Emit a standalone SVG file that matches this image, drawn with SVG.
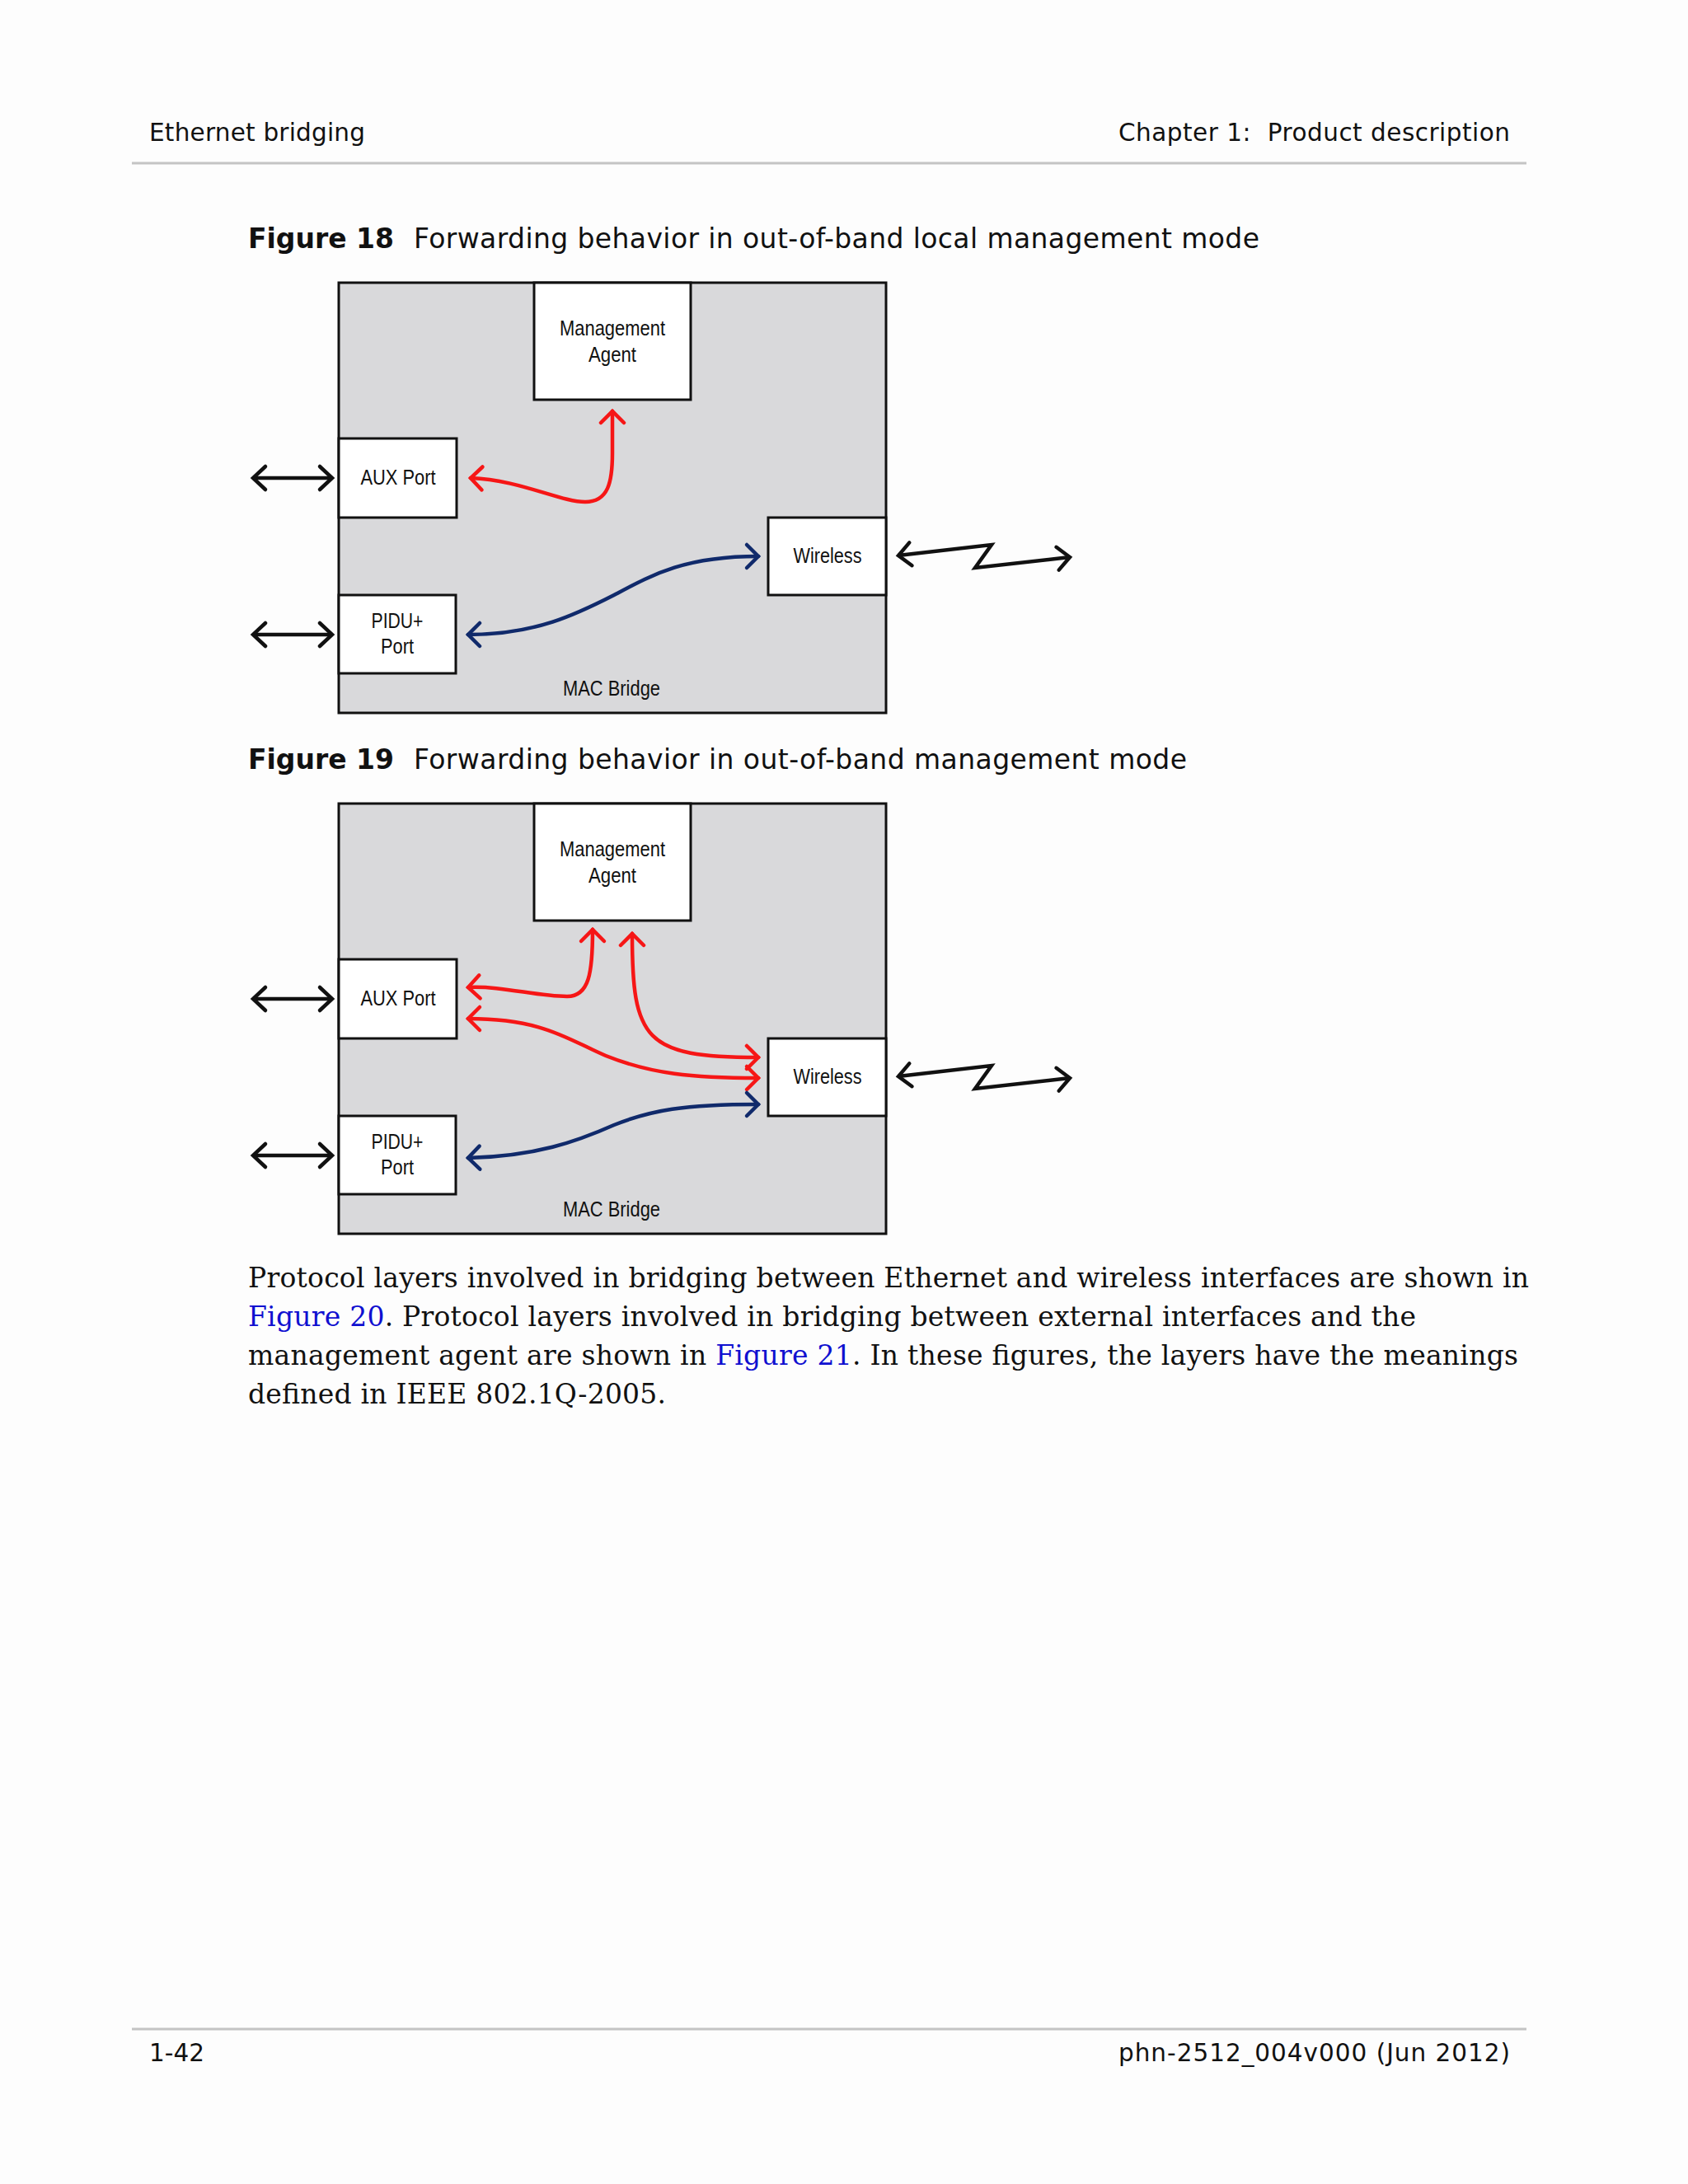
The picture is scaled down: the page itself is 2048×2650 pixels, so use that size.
<svg xmlns="http://www.w3.org/2000/svg" width="2048" height="2650" viewBox="0 0 2048 2650">
<style>
.page{fill:#fdfdfd}
.rule{stroke:#c4c4c4;stroke-width:3}
.hdr{font-family:"DejaVu Sans",Verdana,sans-serif;font-size:29.5px;fill:#111}
.cap{font-family:"DejaVu Sans",Verdana,sans-serif;font-size:33px;fill:#111}
.capb{font-weight:bold}
.body{font-family:"DejaVu Serif","Liberation Serif",serif;font-size:33px;fill:#111}
.link{fill:#1010d0}
.bridge{fill:#d9d9db;stroke:#111;stroke-width:3}
.node rect{fill:#fff;stroke:#111;stroke-width:3}
.lbl{font-family:"Liberation Sans",Arial,sans-serif;font-size:26px;fill:#111;text-anchor:middle}
.blk{fill:none;stroke:#111;stroke-width:4.5;stroke-linejoin:miter}
.red{fill:none;stroke:#f61616;stroke-width:4.5;stroke-linecap:round}
.blu{fill:none;stroke:#102a6b;stroke-width:4.5;stroke-linecap:round}
</style>
<defs>
<marker id="mk" markerUnits="userSpaceOnUse" markerWidth="40" markerHeight="40" viewBox="-20 -20 40 40" refX="0" refY="0" orient="auto-start-reverse" overflow="visible">
<path d="M-15,-14 L0,0 L-15,14" fill="none" stroke="#111" stroke-width="4.5" stroke-linecap="round"/>
</marker>
<marker id="mr" markerUnits="userSpaceOnUse" markerWidth="40" markerHeight="40" viewBox="-20 -20 40 40" refX="0" refY="0" orient="auto-start-reverse" overflow="visible">
<path d="M-14,-14 L0,0 L-14,14" fill="none" stroke="#f61616" stroke-width="4.5" stroke-linecap="round"/>
</marker>
<marker id="mb" markerUnits="userSpaceOnUse" markerWidth="40" markerHeight="40" viewBox="-20 -20 40 40" refX="0" refY="0" orient="auto-start-reverse" overflow="visible">
<path d="M-14,-14 L0,0 L-14,14" fill="none" stroke="#102a6b" stroke-width="4.5" stroke-linecap="round"/>
</marker>
</defs>
<rect class="page" x="0" y="0" width="2048" height="2650"/>

<g id="header">
<text class="hdr" x="181" y="171" textLength="262">Ethernet bridging</text>
<text class="hdr" x="1357" y="171" textLength="475" xml:space="preserve">Chapter 1:  Product description</text>
<line class="rule" x1="160" y1="198" x2="1852" y2="198"/>
</g>

<g id="caption18">
<text class="cap capb" x="301" y="301" textLength="177">Figure 18</text>
<text class="cap" x="502" y="301" textLength="1026">Forwarding behavior in out-of-band local management mode</text>
</g>

<g id="fig18">
<rect id="bridge18" class="bridge" x="411" y="343" width="664" height="522"/>
<text class="lbl" x="742" y="844" textLength="118" lengthAdjust="spacingAndGlyphs">MAC Bridge</text>
<g id="mgmt18" class="node"><rect x="648" y="343" width="190" height="142"/><text class="lbl" x="743" y="407" textLength="128" lengthAdjust="spacingAndGlyphs">Management</text><text class="lbl" x="743" y="439" textLength="58" lengthAdjust="spacingAndGlyphs">Agent</text></g>
<g id="aux18" class="node"><rect x="411" y="532" width="143" height="96"/><text class="lbl" x="483" y="588" textLength="91" lengthAdjust="spacingAndGlyphs">AUX Port</text></g>
<g id="pidu18" class="node"><rect x="411" y="722" width="142" height="95"/><text class="lbl" x="482" y="762" textLength="63" lengthAdjust="spacingAndGlyphs">PIDU+</text><text class="lbl" x="482" y="793" textLength="40" lengthAdjust="spacingAndGlyphs">Port</text></g>
<g id="wireless18" class="node"><rect x="932" y="628" width="143" height="94"/><text class="lbl" x="1004" y="683" textLength="83" lengthAdjust="spacingAndGlyphs">Wireless</text></g>
<g id="conn18">
<line class="blk" x1="307" y1="580" x2="403" y2="580" marker-start="url(#mk)" marker-end="url(#mk)"/>
<line class="blk" x1="307" y1="770" x2="403" y2="770" marker-start="url(#mk)" marker-end="url(#mk)"/>
<polyline class="blk" points="1090,674 1203,661 1183,689 1298,676" marker-start="url(#mk)" marker-end="url(#mk)"/>
<path class="red" d="M571,580 C630,582 680,609 710,609 C738,609 743,585 743,550 L743,499" marker-start="url(#mr)" marker-end="url(#mr)"/>
<path class="blu" d="M568,770 C650,770 700,745 745,722 C790,698 830,675 920,675" marker-start="url(#mb)" marker-end="url(#mb)"/>
</g>
</g>

<g id="caption19">
<text class="cap capb" x="301" y="933" textLength="177">Figure 19</text>
<text class="cap" x="502" y="933" textLength="938">Forwarding behavior in out-of-band management mode</text>
</g>

<g id="fig19">
<rect id="bridge19" class="bridge" x="411" y="975" width="664" height="522"/>
<text class="lbl" x="742" y="1476" textLength="118" lengthAdjust="spacingAndGlyphs">MAC Bridge</text>
<g id="mgmt19" class="node"><rect x="648" y="975" width="190" height="142"/><text class="lbl" x="743" y="1039" textLength="128" lengthAdjust="spacingAndGlyphs">Management</text><text class="lbl" x="743" y="1071" textLength="58" lengthAdjust="spacingAndGlyphs">Agent</text></g>
<g id="aux19" class="node"><rect x="411" y="1164" width="143" height="96"/><text class="lbl" x="483" y="1220" textLength="91" lengthAdjust="spacingAndGlyphs">AUX Port</text></g>
<g id="pidu19" class="node"><rect x="411" y="1354" width="142" height="95"/><text class="lbl" x="482" y="1394" textLength="63" lengthAdjust="spacingAndGlyphs">PIDU+</text><text class="lbl" x="482" y="1425" textLength="40" lengthAdjust="spacingAndGlyphs">Port</text></g>
<g id="wireless19" class="node"><rect x="932" y="1260" width="143" height="94"/><text class="lbl" x="1004" y="1315" textLength="83" lengthAdjust="spacingAndGlyphs">Wireless</text></g>
<g id="conn19">
<line class="blk" x1="307" y1="1212" x2="403" y2="1212" marker-start="url(#mk)" marker-end="url(#mk)"/>
<line class="blk" x1="307" y1="1402" x2="403" y2="1402" marker-start="url(#mk)" marker-end="url(#mk)"/>
<polyline class="blk" points="1090,1306 1203,1293 1183,1321 1298,1308" marker-start="url(#mk)" marker-end="url(#mk)"/>
<path class="red" d="M568,1198 C610,1196 650,1209 688,1209 C715,1209 719,1180 719,1128" marker-start="url(#mr)" marker-end="url(#mr)"/>
<path class="red" d="M767,1133 C767,1262 782,1283 920,1283" marker-start="url(#mr)" marker-end="url(#mr)"/>
<path class="red" d="M568,1236 C660,1236 690,1262 735,1281 C790,1303 840,1308 920,1308" marker-start="url(#mr)" marker-end="url(#mr)"/>
<path class="blu" d="M568,1405 C650,1403 700,1385 745,1365 C790,1347 830,1340 920,1340" marker-start="url(#mb)" marker-end="url(#mb)"/>
</g>
</g>

<g id="paragraph">
<text class="body" x="301" y="1562" textLength="1554">Protocol layers involved in bridging between Ethernet and wireless interfaces are shown in</text>
<text class="body" x="301" y="1609" textLength="1417"><tspan class="link">Figure 20</tspan>. Protocol layers involved in bridging between external interfaces and the</text>
<text class="body" x="301" y="1656" textLength="1541">management agent are shown in <tspan class="link">Figure 21</tspan>. In these figures, the layers have the meanings</text>
<text class="body" x="301" y="1703" textLength="507">defined in IEEE 802.1Q-2005.</text>
</g>

<g id="footer">
<line class="rule" x1="160" y1="2462" x2="1852" y2="2462"/>
<text class="hdr" x="181" y="2501">1-42</text>
<text class="hdr" x="1357" y="2501" textLength="475">phn-2512_004v000 (Jun 2012)</text>
</g>
</svg>
